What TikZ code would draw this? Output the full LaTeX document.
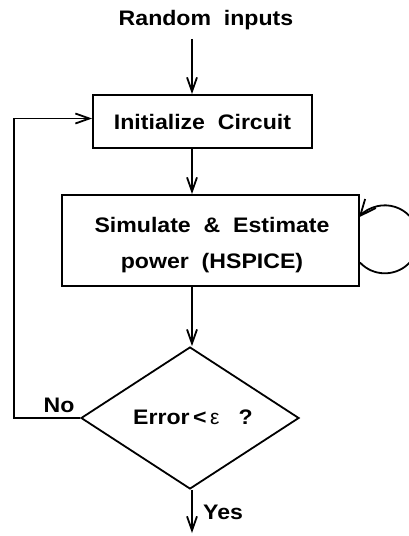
\documentclass[tikz,border=0pt]{standalone}
\usepackage{fontspec}
\setmainfont{Liberation Sans}[FakeStretch=1.1]
\newfontfamily\epsfont{Liberation Sans}
\usetikzlibrary{arrows.meta,shapes.geometric}
\begin{document}
\begin{tikzpicture}[x=1pt,y=-1pt,
  every node/.style={font=\fontsize{21}{36}\selectfont\bfseries, inner sep=0pt},
  boxnode/.style={draw, line width=1.9pt, rectangle},
  decnode/.style={draw, line width=1.8pt, diamond, aspect=1.54},
  arr/.style={line width=1.8pt, -{Straight Barb[length=14pt,width=10pt,line width=1.8pt]}},
  looparr/.style={line width=1.8pt, -{Straight Barb[length=16pt,width=14pt,line width=1.8pt]}}]
\clip (0,0) rectangle (409,536);
\node (rin) at (206,20) {Random\ \ inputs};
\node[boxnode, minimum width=219pt, minimum height=53pt] (init) at (202.5,121.5) {Initialize\ \ Circuit};
\node[boxnode, minimum width=297pt, minimum height=91pt] (sim) at (210.5,240.5) {};
\node[align=center] (simtxt) at (212,245) {Simulate\ \ \&\ \ Estimate\\power\ \ (HSPICE)};
\node[decnode, minimum width=218pt, minimum height=142pt] (dia) at (190,418) {};
\node (errtxt) at (193,417) {Error\,{<}\,{\epsfont\fontseries{m}\selectfont ε}\ \ \ ?};
\coordinate (col) at (192,0);
\coordinate (fb) at (14,0);
\coordinate (out) at (192,533);
\node[anchor=west] (yes) at (203,512) {Yes};
\node (no) at (59,405) {No};
\draw[arr] ([yshift=-9pt]rin.south -| col) -- (init.north -| col);
\draw[arr] (init.south -| col) -- (sim.north -| col);
\draw[arr] (sim.south -| col) -- (dia.north -| col);
\draw[arr] (dia.south -| col) -- (out);
\draw[arr] (dia.west) -- (dia.west -| fb) |- ([yshift=3pt]init.west);
\draw[looparr] ([yshift=-22pt]sim.east) arc[start angle=137, end angle=-140, radius=34];
\end{tikzpicture}
\end{document}
